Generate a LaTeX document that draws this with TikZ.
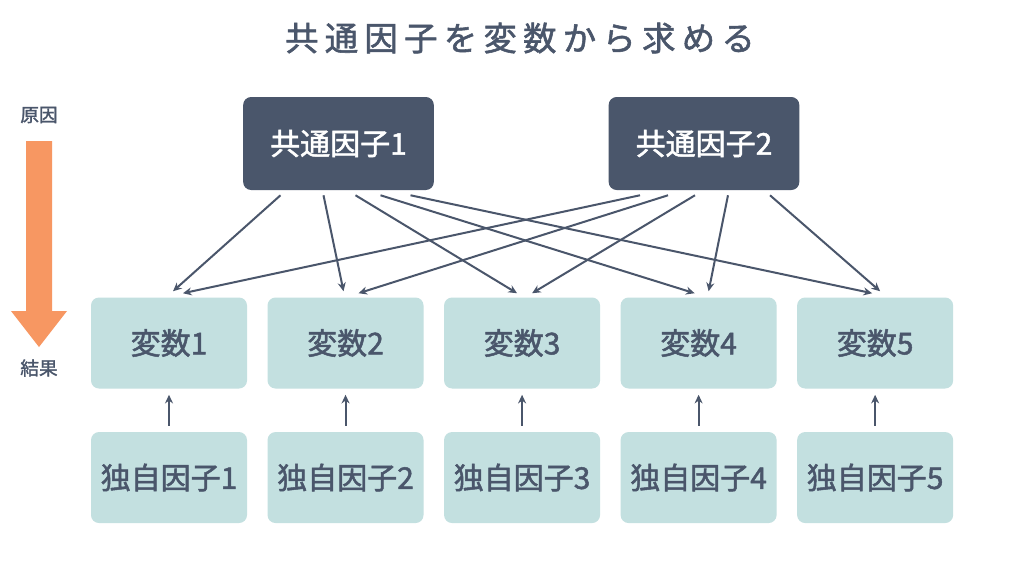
\documentclass[tikz,border=0pt]{standalone}
\usepackage{fontspec}
\setmainfont{Noto Sans CJK JP}[FakeBold=1.6]
\usetikzlibrary{positioning,arrows.meta}
\definecolor{slate}{HTML}{4A566B}
\definecolor{mint}{HTML}{C3E0E0}
\definecolor{carrot}{HTML}{F79762}

\begin{document}
\begin{tikzpicture}[x=0.75pt, y=-0.75pt, node distance=15pt,
  common/.style = {fill=slate, rounded corners=6pt, text=white, minimum width=143pt, minimum height=69.75pt, font=\fontsize{22.5}{27}\selectfont},
  var/.style = {fill=mint, rounded corners=6pt, text=slate, minimum width=117pt, minimum height=68.25pt, font=\fontsize{22.5}{27}\selectfont},
  link/.style = {draw=slate, line width=1.5pt, -{Stealth[length=6.5pt,width=6pt]}},
  side/.style = {text=slate, font=\fontsize{14}{16}\selectfont}]
\useasboundingbox[fill=white] (0,0) rectangle (1024,576);
% title
\node[text=slate, font=\fontsize{25}{30}\selectfont] (title) at (520,38) {\addfontfeatures{LetterSpace=19}共通因子を変数から求める};
% cause -> effect
\node[side] (cause) at (39,115) {原因};
\node[side] (effect) at (39,368) {結果};
\fill[carrot] (26,141) -- (52,141) -- (52,311) -- (67,311) -- (39,347) -- (11,311) -- (26,311) -- cycle;
% common factors
\node[common] (f1) at (338.5,143.5) {共通因子1};
\node[common] (f2) at (704,143.5) {共通因子2};
% variables
\node[var] (v1) at (169,343) {変数1};
\node[var] (v2) [right=15pt of v1] {変数2};
\node[var] (v3) [right=15pt of v2] {変数3};
\node[var] (v4) [right=15pt of v3] {変数4};
\node[var] (v5) [right=15pt of v4] {変数5};
% unique factors
\node[var] (u1) [below=32.25pt of v1] {独自因子1};
\node[var] (u2) [below=32.25pt of v2] {独自因子2};
\node[var] (u3) [below=32.25pt of v3] {独自因子3};
\node[var] (u4) [below=32.25pt of v4] {独自因子4};
\node[var] (u5) [below=32.25pt of v5] {独自因子5};
% loadings
\draw[link] ([shift={(-58,5)}]f1.south) -- ([shift={(4,-6)}]v1.north);
\draw[link] ([shift={(-15,5)}]f1.south) -- ([shift={(-2,-6)}]v2.north);
\draw[link] ([shift={(17,5)}]f1.south) -- ([shift={(-5,-4)}]v3.north);
\draw[link] ([shift={(42,5)}]f1.south) -- ([shift={(-4,-4)}]v4.north);
\draw[link] ([shift={(72,5)}]f1.south) -- ([shift={(-3,-4)}]v5.north);
\draw[link] ([shift={(-64,5)}]f2.south) -- ([shift={(14,-4)}]v1.north);
\draw[link] ([shift={(-36,5)}]f2.south) -- ([shift={(13,-4)}]v2.north);
\draw[link] ([shift={(-9,5)}]f2.south) -- ([shift={(10,-4)}]v3.north);
\draw[link] ([shift={(24,5)}]f2.south) -- ([shift={(10,-6)}]v4.north);
\draw[link] ([shift={(66,5)}]f2.south) -- ([shift={(5,-6)}]v5.north);
% unique -> variable
\draw[link] ([yshift=4.5pt]u1.north) -- ([yshift=-4.5pt]v1.south);
\draw[link] ([yshift=4.5pt]u2.north) -- ([yshift=-4.5pt]v2.south);
\draw[link] ([yshift=4.5pt]u3.north) -- ([yshift=-4.5pt]v3.south);
\draw[link] ([yshift=4.5pt]u4.north) -- ([yshift=-4.5pt]v4.south);
\draw[link] ([yshift=4.5pt]u5.north) -- ([yshift=-4.5pt]v5.south);
\end{tikzpicture}
\end{document}
